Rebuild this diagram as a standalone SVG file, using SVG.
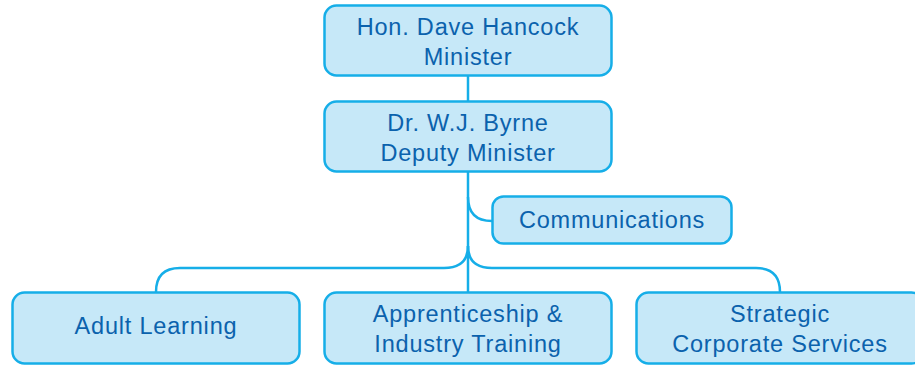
<svg xmlns="http://www.w3.org/2000/svg" width="915" height="366" viewBox="0 0 915 366">
<style>
.box{fill:#c6e8f8;stroke:#16aee8;stroke-width:2.5}
.lbl{font-family:"Liberation Sans",Arial,sans-serif;font-size:23.5px;fill:#0b62ad;text-anchor:middle;letter-spacing:0.8px}
.con{fill:none;stroke:#16aee8;stroke-width:2.5}
</style>
<rect width="915" height="366" fill="#ffffff"/>
<g id="connectors">
<path class="con" d="M468,76 V292"/>
<path class="con" d="M468,197 Q468,221 492,221"/>
<path class="con" d="M468,246 Q468,268 444,268 H180 Q156,268 156,292"/>
<path class="con" d="M468,246 Q468,268 492,268 H756 Q780,268 780,292"/>
</g>
<g id="minister">
<rect class="box" x="324.5" y="5.5" width="287" height="70" rx="12"/>
<text class="lbl" x="468" y="35">Hon. Dave Hancock</text>
<text class="lbl" x="468" y="65">Minister</text>
</g>
<g id="deputy">
<rect class="box" x="324.5" y="101.5" width="287" height="70" rx="12"/>
<text class="lbl" x="468" y="131">Dr. W.J. Byrne</text>
<text class="lbl" x="468" y="161">Deputy Minister</text>
</g>
<g id="communications">
<rect class="box" x="492.5" y="196.5" width="239" height="47" rx="11"/>
<text class="lbl" x="612" y="228">Communications</text>
</g>
<g id="adult">
<rect class="box" x="12.5" y="292.5" width="287" height="71" rx="12"/>
<text class="lbl" x="156" y="334">Adult Learning</text>
</g>
<g id="apprenticeship">
<rect class="box" x="324.5" y="292.5" width="287" height="71" rx="12"/>
<text class="lbl" x="468" y="322">Apprenticeship &amp;</text>
<text class="lbl" x="468" y="352">Industry Training</text>
</g>
<g id="strategic">
<rect class="box" x="636.5" y="292.5" width="287" height="71" rx="12"/>
<text class="lbl" x="780" y="322">Strategic</text>
<text class="lbl" x="780" y="352">Corporate Services</text>
</g>
</svg>
